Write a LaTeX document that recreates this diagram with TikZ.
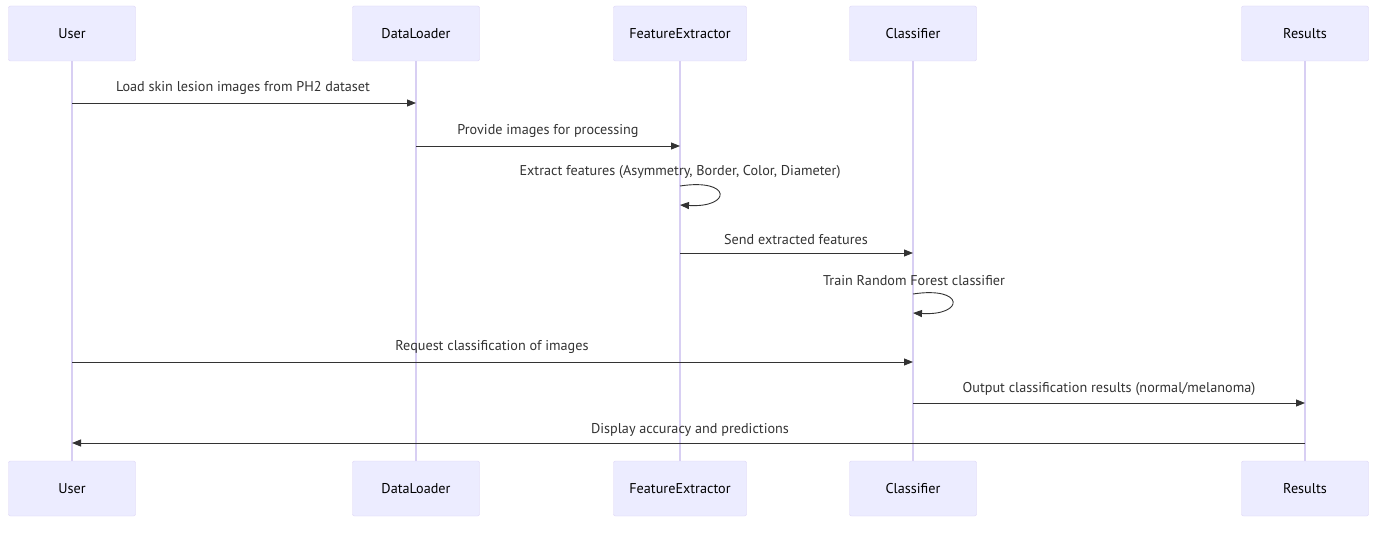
\documentclass[tikz,border=0pt]{standalone}
\usepackage{fontspec}
\setmainfont{PT Sans}
\usepackage{xcolor}
\usetikzlibrary{arrows.meta,positioning,calc}

\definecolor{actorfill}{HTML}{ECECFF}
\definecolor{actorline}{HTML}{DCD3F5}
\definecolor{lifeline}{HTML}{D8CFF3}
\definecolor{msgcol}{HTML}{333333}

\begin{document}
\begin{tikzpicture}[
  x=1pt, y=-1pt,
  actor/.style={draw=actorline, fill=actorfill, rounded corners=2pt, minimum height=55pt,
                font=\fontsize{14.2}{16}\selectfont, inner sep=0pt},
  life/.style={draw=lifeline, line width=1.2pt},
  arrow/.style={draw=msgcol, line width=0.9pt, -{Triangle[length=9pt,width=7pt]}},
  label/.style={font=\fontsize{14.2}{16}\selectfont, text=msgcol, inner sep=0pt}
]
  \useasboundingbox (0,0) rectangle (1381,548);

  % Lifelines (drawn first, under the boxes)
  \draw[life] (72,61) -- (72,461);
  \draw[life] (416,61) -- (416,461);
  \draw[life] (680,61) -- (680,461);
  \draw[life] (913,61) -- (913,461);
  \draw[life] (1305,61) -- (1305,461);

  % Actors top
  \node[actor, minimum width=127pt] (userTop) at (72,33.5) {User};
  \node[actor, minimum width=127pt] (loaderTop) at (416,33.5) {DataLoader};
  \node[actor, minimum width=133pt] (extractorTop) at (680,33.5) {FeatureExtractor};
  \node[actor, minimum width=127pt] (classifierTop) at (913,33.5) {Classifier};
  \node[actor, minimum width=127pt] (resultsTop) at (1305,33.5) {Results};

  % Actors bottom
  \node[actor, minimum width=127pt] (userBot) at (72,488.5) {User};
  \node[actor, minimum width=127pt] (loaderBot) at (416,488.5) {DataLoader};
  \node[actor, minimum width=133pt] (extractorBot) at (680,488.5) {FeatureExtractor};
  \node[actor, minimum width=127pt] (classifierBot) at (913,488.5) {Classifier};
  \node[actor, minimum width=127pt] (resultsBot) at (1305,488.5) {Results};

  % Messages
  \draw[arrow] (userTop |- 0,103) -- (loaderTop |- 0,103);
  \node[label] (m1) at (243,87.5) {Load skin lesion images from PH2 dataset};

  \draw[arrow] (loaderTop |- 0,146) -- (extractorTop |- 0,146);
  \node[label] (m2) at (548,130.5) {Provide images for processing};

  \draw[arrow] (extractorTop |- 0,186) .. controls ($(extractorTop |- 0,186)+(52,-8)$) and ($(extractorTop |- 0,186)+(52,22)$) .. (extractorTop |- 0,205);
  \node[label] (m3) at (680,172.5) {Extract features (Asymmetry, Border, Color, Diameter)};

  \draw[arrow] (extractorTop |- 0,253) -- (classifierTop |- 0,253);
  \node[label] (m4) at (796,239.5) {Send extracted features};

  \draw[arrow] (classifierTop |- 0,294) .. controls ($(classifierTop |- 0,294)+(52,-8)$) and ($(classifierTop |- 0,294)+(52,22)$) .. (classifierTop |- 0,313);
  \node[label] (m5) at (914,280.5) {Train Random Forest classifier};

  \draw[arrow] (userTop |- 0,362) -- (classifierTop |- 0,362);
  \node[label] (m6) at (492,346.5) {Request classification of images};

  \draw[arrow] (classifierTop |- 0,403) -- (resultsTop |- 0,403);
  \node[label] (m7) at (1109,389.5) {Output classification results (normal/melanoma)};

  \draw[arrow] (resultsTop |- 0,443) -- (userTop |- 0,443);
  \node[label] (m8) at (690,429.5) {Display accuracy and predictions};
\end{tikzpicture}
\end{document}
